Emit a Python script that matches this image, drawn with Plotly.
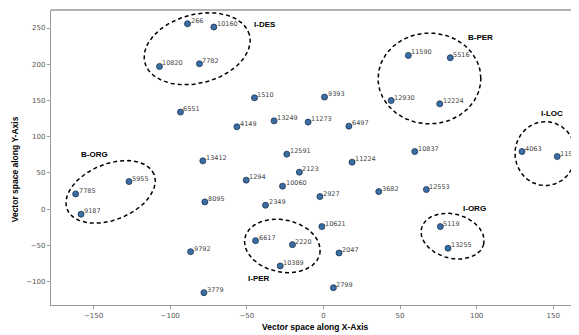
import numpy as np
import plotly.graph_objects as go

# ---- data ----
point_labels = ["266", "10160", "10820", "7782", "6551", "1510", "9393", "4149", "13249", "11273",
                "6497", "13412", "12591", "11224", "2123", "1294", "10060", "8095", "2349", "2927",
                "3682", "10621", "6617", "2220", "10389", "2047", "2799", "3779", "9792", "7785",
                "9187", "5955", "11590", "5516", "12930", "12224", "10837", "4063", "11537", "12553",
                "5119", "13255"]
x_vals = [-88.7, -71.5, -107.0, -80.9, -93.3, -45.0, 0.7, -56.5, -32.2, -10.0,
          16.6, -78.7, -23.9, 18.7, -15.7, -50.4, -26.7, -77.4, -37.8, -2.3,
          36.1, -1.0, -44.3, -20.2, -28.2, 10.2, 6.5, -78.0, -86.7, -161.7,
          -158.2, -126.9, 55.4, 82.8, 44.2, 75.9, 59.6, 129.6, 152.6, 67.2,
          76.3, 81.3]
y_vals = [255.9, 251.4, 197.0, 200.7, 134.0, 153.7, 154.7, 113.7, 121.9, 120.2,
          114.6, 66.7, 76.0, 64.9, 51.1, 40.1, 31.8, 10.1, 5.5, 17.4,
          24.3, -24.0, -43.4, -48.9, -78.3, -60.4, -108.3, -115.2, -58.6, 21.1,
          -6.9, 38.1, 212.2, 209.0, 150.0, 145.4, 79.6, 79.6, 72.7, 27.1,
          -24.0, -53.9]

cluster_names = ["I-DES", "B-PER", "I-LOC", "B-ORG", "I-ORG", "I-PER"]
cluster_label_x = [-45.7, 93.5, 141.4, -158.7, 90.3, -50.0]
cluster_label_y = [255.0, 237.0, 132.3, 75.9, 1.4, -95.1]

# ellipses: centre (data), semi-axes (px), rotation (deg)
ell_cx = [-82.4, 69.2, 144.8, -138.9, 84.3, -26.8]
ell_cy = [221.4, 180.4, 76.8, 23.9, -37.2, -50.7]
ell_a = [54.1, 51.4, 30.3, 46.9, 32.1, 38.3]
ell_b = [34.3, 45.4, 32.0, 28.0, 22.1, 26.1]
ell_ang = [15, 0, 0, 22, -15, -12]

X_RANGE = [-177.8, 166.8]
Y_RANGE = [-132.2, 274.9]

# page body has an 8px margin, so the figure is sized to fill the rest of the window
W, H = 571, 327
ML, MR, MT, MB = 43, 0, 2, 30
px_per_x = (W - ML - MR) / (X_RANGE[1] - X_RANGE[0])
px_per_y = (H - MT - MB) / (Y_RANGE[1] - Y_RANGE[0])

fig = go.Figure()

t = np.linspace(0, 2 * np.pi, 200)
for cx, cy, a, b, ang in zip(ell_cx, ell_cy, ell_a, ell_b, ell_ang):
    th = np.radians(ang)
    u = a * np.cos(t)
    v = b * np.sin(t)
    ur = u * np.cos(th) - v * np.sin(th)
    vr = u * np.sin(th) + v * np.cos(th)
    fig.add_trace(go.Scatter(x=cx + ur / px_per_x, y=cy + vr / px_per_y, mode="lines",
                             line=dict(color="black", width=1.5, dash="4px,3px"),
                             hoverinfo="skip", showlegend=False))

fig.add_trace(go.Scatter(x=x_vals, y=y_vals, mode="markers",
                         marker=dict(size=6, color="#3a6ea5",
                                     line=dict(color="#1c3250", width=0.8)),
                         showlegend=False))

for lab, x, y in zip(point_labels, x_vals, y_vals):
    fig.add_annotation(x=x, y=y, text=lab, showarrow=False, xanchor="left", yanchor="middle",
                       xshift=2, yshift=3, borderpad=0,
                       font=dict(family="DejaVu Sans", size=6.5, color="#444444"))

for name, x, y in zip(cluster_names, cluster_label_x, cluster_label_y):
    fig.add_annotation(x=x, y=y, text="<b>" + name + "</b>", showarrow=False,
                       xanchor="left", yanchor="middle", borderpad=0,
                       font=dict(family="Liberation Sans", size=8, color="black"))

# axis titles
fig.add_annotation(xref="paper", yref="paper", x=0.5, y=0, yshift=-22, yanchor="middle",
                   text="<b>Vector space along X-Axis</b>", showarrow=False,
                   font=dict(family="Liberation Sans", size=8.5, color="black"))
fig.add_annotation(xref="paper", yref="paper", x=0, xshift=-36, y=0.46, xanchor="center",
                   text="<b>Vector space along Y-Axis</b>", showarrow=False, textangle=-90,
                   font=dict(family="Liberation Sans", size=8.5, color="black"))

axis_common = dict(showgrid=False, zeroline=False, showline=True, linecolor="#999999",
                   linewidth=1.3, ticks="outside", ticklen=3, tickcolor="#999999",
                   tickfont=dict(family="DejaVu Sans", size=7, color="#555555"))
fig.update_xaxes(range=X_RANGE, tickvals=[-150, -100, -50, 0, 50, 100, 150],
                 ticktext=["\u2212150", "\u2212100", "\u221250", "0", "50", "100", "150"],
                 mirror=False, **axis_common)
fig.update_yaxes(range=Y_RANGE, tickvals=[-100, -50, 0, 50, 100, 150, 200, 250],
                 ticktext=["\u2212100", "\u221250", "0", "50", "100", "150", "200", "250"],
                 **axis_common)
# top spine
fig.add_shape(type="line", xref="paper", yref="paper", x0=0, x1=1, y0=1, y1=1,
              line=dict(color="#999999", width=1.3))

fig.update_layout(width=W, height=H, margin=dict(l=ML, r=MR, t=MT, b=MB),
                  plot_bgcolor="white", paper_bgcolor="white")
fig.write_html("out.html")
